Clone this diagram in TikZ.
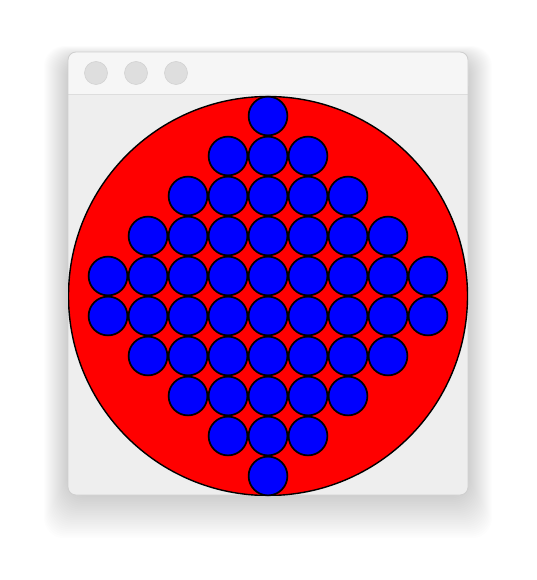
\documentclass[tikz,border=0pt]{standalone}
\usepackage{xcolor}
\definecolor{winbg}{HTML}{EEEEEE}
\definecolor{titlebg}{HTML}{F6F6F6}
\definecolor{winedge}{HTML}{CFCFCF}
\definecolor{btnfill}{HTML}{DEDEDE}
\definecolor{btnedge}{HTML}{D2D2D2}
\definecolor{boardred}{HTML}{FF0000}
\definecolor{pegblue}{HTML}{0000FF}

\begin{document}
\begin{tikzpicture}[x=1pt,y=-1pt]
  \useasboundingbox (0,0) rectangle (536,580);
  \fill[white] (0,0) rectangle (536,580);
  % soft shadow
  \foreach \s in {1,...,24}
    \fill[black,opacity=0.006,rounded corners=20] (68-\s,58-0.5*\s) rectangle (468+\s,495+1.8*\s);
  % window
  \fill[winbg,rounded corners=8] (68,52) rectangle (468,495);
  \fill[titlebg,rounded corners=8] (68,52) rectangle (468,94);
  \fill[titlebg] (68,80) rectangle (468,94);
  \draw[winedge!70,line width=1.2] (68,94.5)--(468,94.5);
  \draw[winedge,line width=0.8,rounded corners=8] (68,52) rectangle (468,495);
  \foreach \bx in {96,136,176}
    \draw[btnedge,fill=btnfill,line width=0.6] (\bx,73) circle (11.5);
  % board
  \begin{scope}
    \clip (68,95) rectangle (468,495);
    \draw[black,fill=boardred,line width=1.4] (268,296) circle (199.5);
  \end{scope}
  % pegs
  \foreach \r/\n in {0/1,1/3,2/5,3/7,4/9,5/9,6/7,7/5,8/3,9/1}
    \foreach \k in {1,...,\n}
      \draw[black,fill=pegblue,line width=1.7] ({268-20*(\n-1)+40*(\k-1)},{116+40*\r}) circle (19.4);
\end{tikzpicture}
\end{document}
